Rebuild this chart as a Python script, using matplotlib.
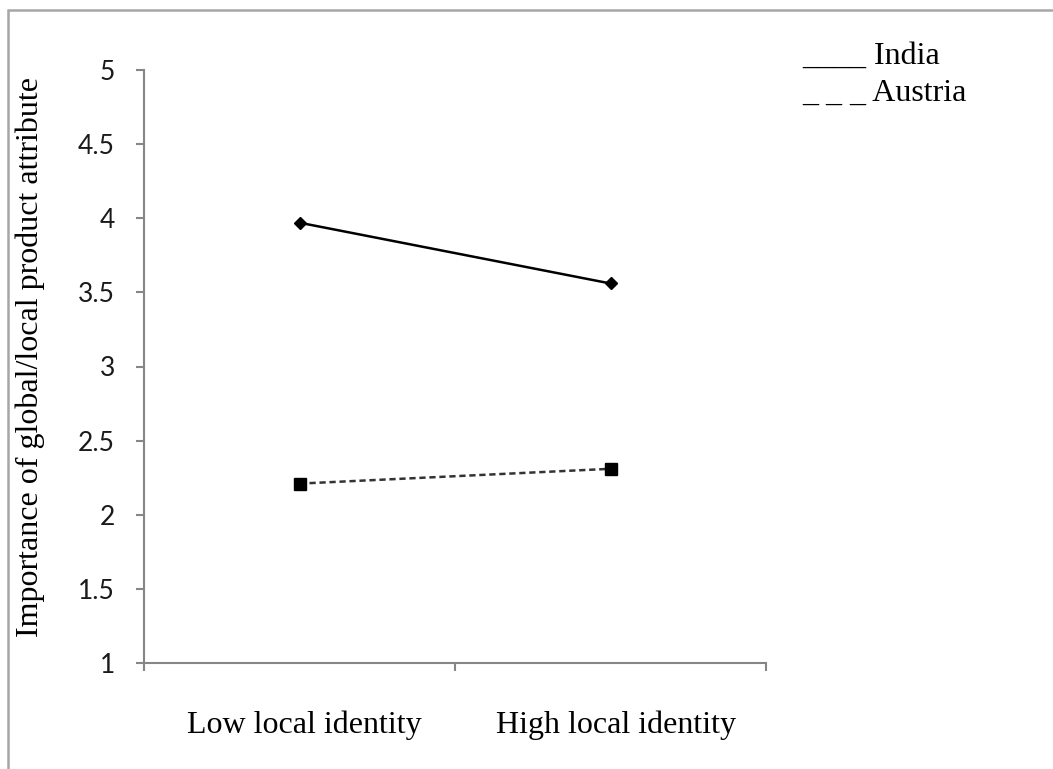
import matplotlib
matplotlib.use("Agg")
import matplotlib.pyplot as plt
from matplotlib.patches import Rectangle
from matplotlib.transforms import ScaledTranslation

categories = ["Low local identity", "High local identity"]
india = [3.97, 3.56]
austria = [2.21, 2.31]
yticks = [1, 1.5, 2, 2.5, 3, 3.5, 4, 4.5, 5]
ytick_labels = ["1", "1.5", "2", "2.5", "3", "3.5", "4", "4.5", "5"]

W, H = 1053, 769
fig = plt.figure(figsize=(W / 100, H / 100), dpi=100)
fig.patch.set_facecolor("white")

# outer frame (top and left visible)
fig.patches.append(Rectangle((8 / W, -0.1), 1.2, 1.1 - 10 / H,
                             transform=fig.transFigure, fill=False,
                             edgecolor="#a6a6a6", linewidth=1.8))

ax = fig.add_axes([144 / W, 1 - 663 / H, (766 - 144) / W, (663 - 70) / H])
x = list(range(len(categories)))
ax.plot(x, india, color="black", linewidth=1.8, marker="D", markersize=6,
        label="India")
ax.plot(x, austria, color="#333333", linewidth=1.8, linestyle=(0, (2.5, 1.5)),
        marker="s", markersize=8, markerfacecolor="black",
        markeredgecolor="black", label="Austria")

ax.set_xlim(-0.5, len(categories) - 0.5)
ax.set_ylim(1, 5)
ax.set_yticks(yticks)
ax.set_yticklabels(ytick_labels, family=["Lato", "DejaVu Sans"], fontsize=19,
                   color="#1a1a1a")
ax.set_xticks(x)
ax.set_xticklabels(categories, family="Liberation Serif", fontsize=23)
ax.set_xticks([i - 0.5 for i in range(len(categories) + 1)], minor=True)
ax.tick_params(axis="x", which="major", length=0, pad=34)
ax.tick_params(axis="x", which="minor", length=6, width=1.5, color="#868686",
               direction="out")
ax.tick_params(axis="y", length=6, width=1.5, color="#868686", pad=15)
for s in ["top", "right"]:
    ax.spines[s].set_visible(False)
for s in ["left", "bottom"]:
    ax.spines[s].set_color("#868686")
    ax.spines[s].set_linewidth(1.5)

off = ScaledTranslation(5 / 100, 0, fig.dpi_scale_trans)
for lbl in ax.get_xticklabels():
    lbl.set_transform(lbl.get_transform() + off)

fig.text(30 / W, 1 - 357 / H, "Importance of global/local product attribute",
         rotation=90, ha="center", va="center", family="Liberation Serif",
         fontsize=23)

fig.text(802 / W, 1 - 64 / H, "____ India", ha="left", va="baseline",
         family="Liberation Serif", fontsize=23)
fig.text(802 / W, 1 - 101 / H, "_ _ _ Austria", ha="left", va="baseline",
         family="Liberation Serif", fontsize=23)

fig.savefig("out.png", dpi=100, facecolor="white")
